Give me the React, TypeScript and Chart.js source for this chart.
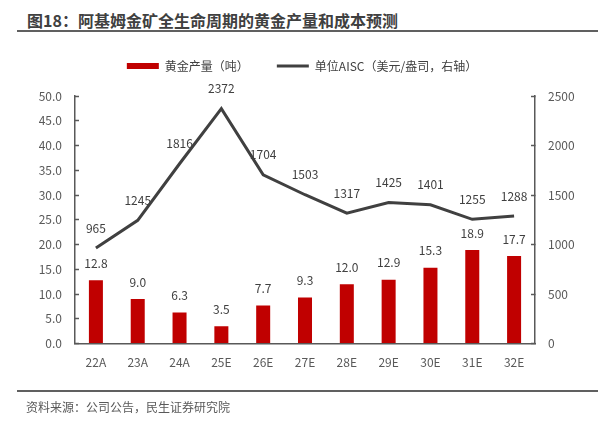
import React, { useEffect, useRef } from "react";
import { Chart, registerables } from "chart.js";

Chart.register(...registerables);

const categories = ["22A", "23A", "24A", "25E", "26E", "27E", "28E", "29E", "30E", "31E", "32E"];
const goldOutput = [12.8, 9.0, 6.3, 3.5, 7.7, 9.3, 12.0, 12.9, 15.3, 18.9, 17.7];
const aiscPerOz = [965, 1245, 1816, 2372, 1704, 1503, 1317, 1425, 1401, 1255, 1288];
const seriesNames = ["黄金产量（吨）", "单位AISC（美元/盎司，右轴）"];
const titleText = "图18：阿基姆金矿全生命周期的黄金产量和成本预测";
const sourceText = "资料来源：公司公告，民生证券研究院";

const FONT = "'Noto Sans CJK SC', 'Noto Sans', sans-serif";
const TEXT = "#404040";
const AXIS = "#595959";

const dataLabels = {
  id: "dataLabels",
  afterDatasetsDraw(chart: any) {
    const ctx = chart.ctx;
    ctx.save();
    ctx.font = `12px ${FONT}`;
    ctx.fillStyle = TEXT;
    ctx.textAlign = "center";
    ctx.textBaseline = "middle";
    chart.data.datasets.forEach((ds: any, di: number) => {
      const meta = chart.getDatasetMeta(di);
      meta.data.forEach((el: any, i: number) => {
        const v = ds.data[i];
        const txt = ds.type === "bar" ? v.toFixed(1) : String(v);
        const off = ds.type === "bar" ? 17 : 20;
        ctx.fillText(txt, el.x, el.y - off);
      });
    });
    ctx.restore();
  },
};

const legendGap = {
  id: "legendGap",
  beforeLayout(chart: any) {
    const lg = chart.legend;
    if (lg && !lg._gapPatched) {
      const orig = lg.fit.bind(lg);
      lg.fit = function () {
        orig();
        this.height += 14;
      };
      lg._gapPatched = true;
    }
  },
};

export default function App() {
  const ref = useRef<HTMLCanvasElement | null>(null);

  useEffect(() => {
    if (!ref.current) return;
    const chart = new Chart(ref.current, {
      data: {
        labels: categories,
        datasets: [
          {
            type: "bar",
            label: seriesNames[0],
            data: goldOutput,
            backgroundColor: "#C00000",
            borderWidth: 0,
            barPercentage: 0.335,
            categoryPercentage: 1,
            yAxisID: "y",
            order: 2,
          } as any,
          {
            type: "line",
            label: seriesNames[1],
            data: aiscPerOz,
            borderColor: "#404040",
            backgroundColor: "#404040",
            borderWidth: 3,
            pointRadius: 0,
            tension: 0,
            yAxisID: "y1",
            order: 1,
          } as any,
        ],
      },
      options: {
        responsive: false,
        animation: false,
        devicePixelRatio: 1,
        layout: { padding: { top: 0, bottom: 52, left: 0, right: 0 } },
        plugins: {
          title: { display: false },
          tooltip: { enabled: false },
          legend: {
            display: true,
            position: "top",
            labels: {
              usePointStyle: true,
              pointStyleWidth: 32,
              boxHeight: 6,
              padding: 28,
              color: TEXT,
              font: { family: FONT, size: 12 },
              generateLabels: (c: any) =>
                c.data.datasets.map((ds: any, i: number) => ({
                  text: ds.label,
                  fillStyle: ds.type === "bar" ? "#C00000" : "#404040",
                  strokeStyle: "#404040",
                  lineWidth: ds.type === "bar" ? 0 : 3,
                  pointStyle: ds.type === "bar" ? "rect" : "line",
                  fontColor: TEXT,
                  hidden: false,
                  datasetIndex: i,
                })),
            },
          },
        },
        scales: {
          x: {
            grid: { display: false, drawTicks: false },
            border: { display: true, color: AXIS, width: 1.5 },
            ticks: { color: AXIS, font: { family: FONT, size: 12 }, padding: 12 },
          },
          y: {
            position: "left",
            min: 0,
            max: 50,
            afterFit: (s: any) => { s.width = 75; },
            ticks: {
              stepSize: 5,
              color: AXIS,
              font: { family: FONT, size: 12 },
              padding: 17,
              callback: (v: any) => Number(v).toFixed(1),
            },
            grid: { drawOnChartArea: false, drawTicks: true, tickLength: -4, tickColor: AXIS, tickWidth: 1.5 },
            border: { display: true, color: AXIS, width: 1.5 },
          },
          y1: {
            position: "right",
            min: 0,
            max: 2500,
            afterFit: (s: any) => { s.width = 69; },
            ticks: {
              stepSize: 500,
              color: AXIS,
              font: { family: FONT, size: 12 },
              padding: 17,
              callback: (v: any) => String(v),
            },
            grid: { drawOnChartArea: false, drawTicks: true, tickLength: -4, tickColor: AXIS, tickWidth: 1.5 },
            border: { display: true, color: AXIS, width: 1.5 },
          },
        },
      },
      plugins: [legendGap, dataLabels],
    } as any);
    return () => chart.destroy();
  }, []);

  return (
    <div style={{ position: "absolute", left: 0, top: 0, width: 604, height: 434, background: "#fff", fontFamily: FONT, overflow: "hidden" }}>
      <div
        style={{
          position: "absolute",
          left: 27,
          top: 9,
          fontSize: 16,
          fontWeight: 700,
          color: TEXT,
          lineHeight: "22px",
          whiteSpace: "nowrap",
        }}
      >
        {titleText}
      </div>
      <div style={{ position: "absolute", left: 17, top: 30, width: 581, height: 2, background: "#606060" }} />
      <canvas
        ref={ref}
        width={604}
        height={402}
        style={{ position: "absolute", left: 0, top: 32, width: 604, height: 402 }}
      />
      <div style={{ position: "absolute", left: 17, top: 390, width: 581, height: 1.5, background: "#606060" }} />
      <div
        style={{
          position: "absolute",
          left: 26,
          top: 398,
          fontSize: 12,
          color: AXIS,
          lineHeight: "18px",
          whiteSpace: "nowrap",
        }}
      >
        {sourceText}
      </div>
    </div>
  );
}
